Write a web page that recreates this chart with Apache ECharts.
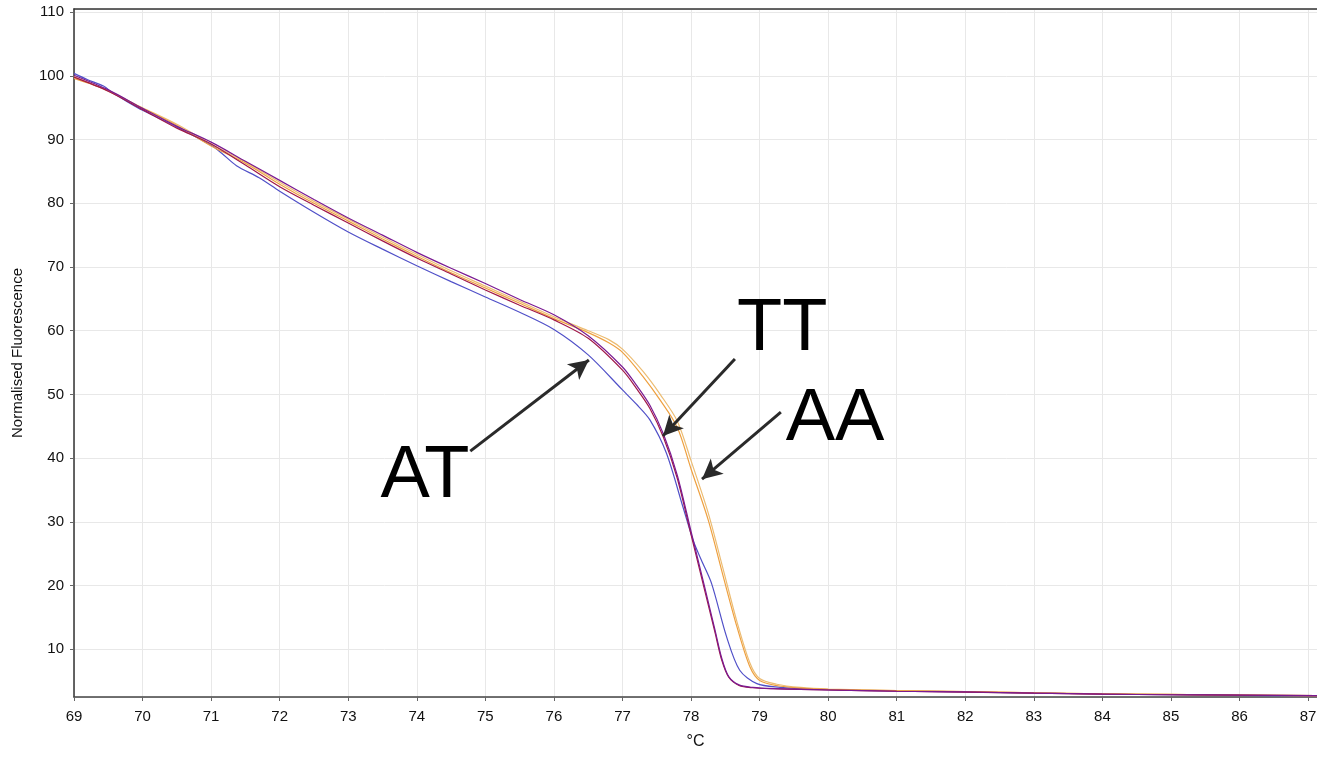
<!DOCTYPE html>
<html>
<head>
<meta charset="utf-8">
<script src="https://cdn.jsdelivr.net/npm/echarts@6/dist/echarts.min.js"></script>
<style>
  html, body { margin: 0; padding: 0; background: #fff; }
  #chart { width: 1317px; height: 757px; }
</style>
</head>
<body>
<div id="chart"></div>
<script>
// melt curves
const ttTemp = [69, 69.5, 70, 70.5, 71, 71.5, 72, 72.5, 73, 73.5, 74, 74.5, 75, 75.5, 76, 76.5, 77, 77.2, 77.4, 77.6, 77.8, 78, 78.2, 78.35, 78.45, 78.55, 78.7, 78.9, 79.2, 79.6, 80, 81, 82, 83, 84, 85, 86, 87.2]
const tt1 = [100.1, 97.8, 94.9, 92.1, 89.6, 86.6, 83.6, 80.6, 77.7, 75.0, 72.3, 69.8, 67.4, 64.9, 62.5, 59.2, 54.3, 51.5, 48.3, 43.7, 37.3, 28.5, 19.7, 13.0, 8.5, 5.7, 4.4, 4.0, 3.8, 3.7, 3.6, 3.4, 3.3, 3.1, 2.95, 2.85, 2.8, 2.7]
const tt2 = [99.8, 97.6, 94.7, 91.8, 89.3, 86.0, 82.6, 79.7, 76.9, 74.1, 71.4, 68.9, 66.4, 64.0, 61.7, 58.8, 53.8, 51.0, 47.8, 43.2, 36.8, 28.0, 19.2, 12.6, 8.2, 5.6, 4.3, 3.95, 3.8, 3.7, 3.6, 3.4, 3.25, 3.1, 2.95, 2.85, 2.8, 2.7]

const aaTemp = [69, 69.5, 70, 70.5, 71, 71.5, 72, 72.5, 73, 73.5, 74, 74.5, 75, 75.5, 76, 76.5, 76.8, 77, 77.3, 77.55, 77.8, 78, 78.25, 78.47, 78.67, 78.86, 79, 79.25, 79.6, 80, 81, 82, 83, 84, 85, 86, 87.2]
const aa1 = [99.6, 97.7, 94.9, 92.2, 89.0, 86.3, 83.0, 80.0, 77.2, 74.4, 71.7, 69.1, 66.7, 64.3, 61.9, 59.7, 58.1, 56.6, 52.8, 49.1, 44.8, 38.3, 30.3, 21.4, 13.5, 7.2, 5.1, 4.3, 3.9, 3.7, 3.5, 3.35, 3.15, 3.0, 2.9, 2.8, 2.7]
const aa2 = [99.9, 97.6, 95.0, 92.4, 89.3, 86.5, 83.3, 80.3, 77.5, 74.7, 72.0, 69.4, 67.0, 64.6, 62.2, 60.0, 58.6, 57.1, 53.6, 50.0, 45.8, 39.6, 31.4, 22.5, 14.3, 7.8, 5.4, 4.5, 4.0, 3.75, 3.5, 3.35, 3.15, 3.0, 2.9, 2.8, 2.7]

const atTemp = [69, 69.2, 69.43, 69.57, 69.77, 70, 70.5, 71, 71.15, 71.37, 71.7, 72, 72.5, 73, 73.5, 74, 74.5, 75, 75.5, 76, 76.5, 77, 77.2, 77.4, 77.64, 77.88, 78.03, 78.15, 78.3, 78.52, 78.71, 78.96, 79.3, 79.6, 80, 81, 82, 83, 84, 85, 86, 87.2]
const at1 = [100.4, 99.4, 98.4, 97.3, 96.0, 94.6, 92.0, 89.1, 87.9, 85.9, 84.0, 81.9, 78.6, 75.5, 72.8, 70.2, 67.7, 65.3, 62.9, 60.2, 56.2, 50.7, 48.5, 46.0, 40.8, 32.4, 27.1, 24.0, 20.3, 11.9, 6.7, 4.6, 4.0, 3.8, 3.65, 3.45, 3.3, 3.1, 3.0, 2.85, 2.75, 2.7]

// annotations (data units)
const noteNames = ['AT', 'TT', 'AA']
const notePos = [[74.12, 37.1], [79.33, 60.1], [80.1, 46.0]]
const arrowFrom = [[74.78, 41.1], [78.64, 55.55], [79.31, 47.23]]
const arrowTo = [[76.51, 55.4], [77.59, 43.46], [78.16, 36.7]]

const zip = (xs, ys) => xs.map((x, i) => [x, ys[i]])

const curve = (name, xs, ys, color) => ({
  name,
  type: 'line',
  data: zip(xs, ys),
  showSymbol: false,
  smooth: 0.3,
  lineStyle: { color, width: 1.2 },
  silent: true,
  z: 3
})

const font = 'Liberation Sans, Arial, sans-serif'
const chart = echarts.init(document.getElementById('chart'))

chart.setOption({
  animation: false,
  grid: { left: 74, right: 0, top: 9, bottom: 60, outerBoundsMode: 'none' },
  xAxis: [{
    type: 'value',
    min: 69,
    max: 87.13,
    interval: 1,
    name: '°C',
    nameLocation: 'middle',
    nameGap: 37,
    nameTextStyle: { fontFamily: font, fontSize: 16, color: '#111' },
    axisLine: { lineStyle: { color: '#444', width: 1.5 } },
    axisTick: { length: 4, lineStyle: { color: '#666' } },
    axisLabel: { margin: 12, fontFamily: font, fontSize: 15, color: '#111', showMaxLabel: false },
    splitLine: { lineStyle: { color: '#e8e8e8', width: 1 } }
  }, {
    type: 'value',
    position: 'top',
    min: 69,
    max: 87.13,
    axisLine: { lineStyle: { color: '#333', width: 1.5 } },
    axisTick: { show: false },
    axisLabel: { show: false },
    splitLine: { show: false }
  }],
  yAxis: {
    type: 'value',
    min: 2.5,
    max: 110.5,
    minInterval: 10,
    maxInterval: 10,
    name: 'Normalised Fluorescence',
    nameLocation: 'middle',
    nameGap: 49,
    nameTextStyle: { fontFamily: font, fontSize: 15, color: '#111' },
    axisLine: { show: true, lineStyle: { color: '#333', width: 1.5 } },
    axisTick: { show: true, length: 4, lineStyle: { color: '#666' } },
    axisLabel: { margin: 10, fontFamily: font, fontSize: 15, color: '#111', showMinLabel: false, showMaxLabel: false },
    splitLine: { lineStyle: { color: '#e8e8e8', width: 1 } }
  },
  series: [
    curve('AT', atTemp, at1, '#5050c8'),
    curve('AA 2', aaTemp, aa2, '#ecbc72'),
    curve('AA 1', aaTemp, aa1, '#eea040'),
    curve('TT 2', ttTemp, tt2, '#a01848'),
    curve('TT 1', ttTemp, tt1, '#7a1a92'),
    {
      name: 'notes',
      type: 'scatter',
      silent: true,
      symbolSize: 0,
      z: 5,
      itemStyle: { opacity: 1 },
      data: noteNames.map((n, i) => ({ name: n, value: notePos[i] })),
      label: {
        show: true,
        position: 'inside',
        formatter: '{b}',
        fontFamily: font,
        fontSize: 74,
        color: '#000'
      },
      markLine: {
        silent: true,
        animation: false,
        symbol: ['none', 'arrow'],
        symbolSize: [15, 20],
        label: { show: false },
        lineStyle: { color: '#2a2a2a', width: 3, type: 'solid', opacity: 1 },
        data: arrowFrom.map((p, i) => [{ coord: p }, { coord: arrowTo[i] }])
      }
    }
  ]
})
</script>
</body>
</html>
